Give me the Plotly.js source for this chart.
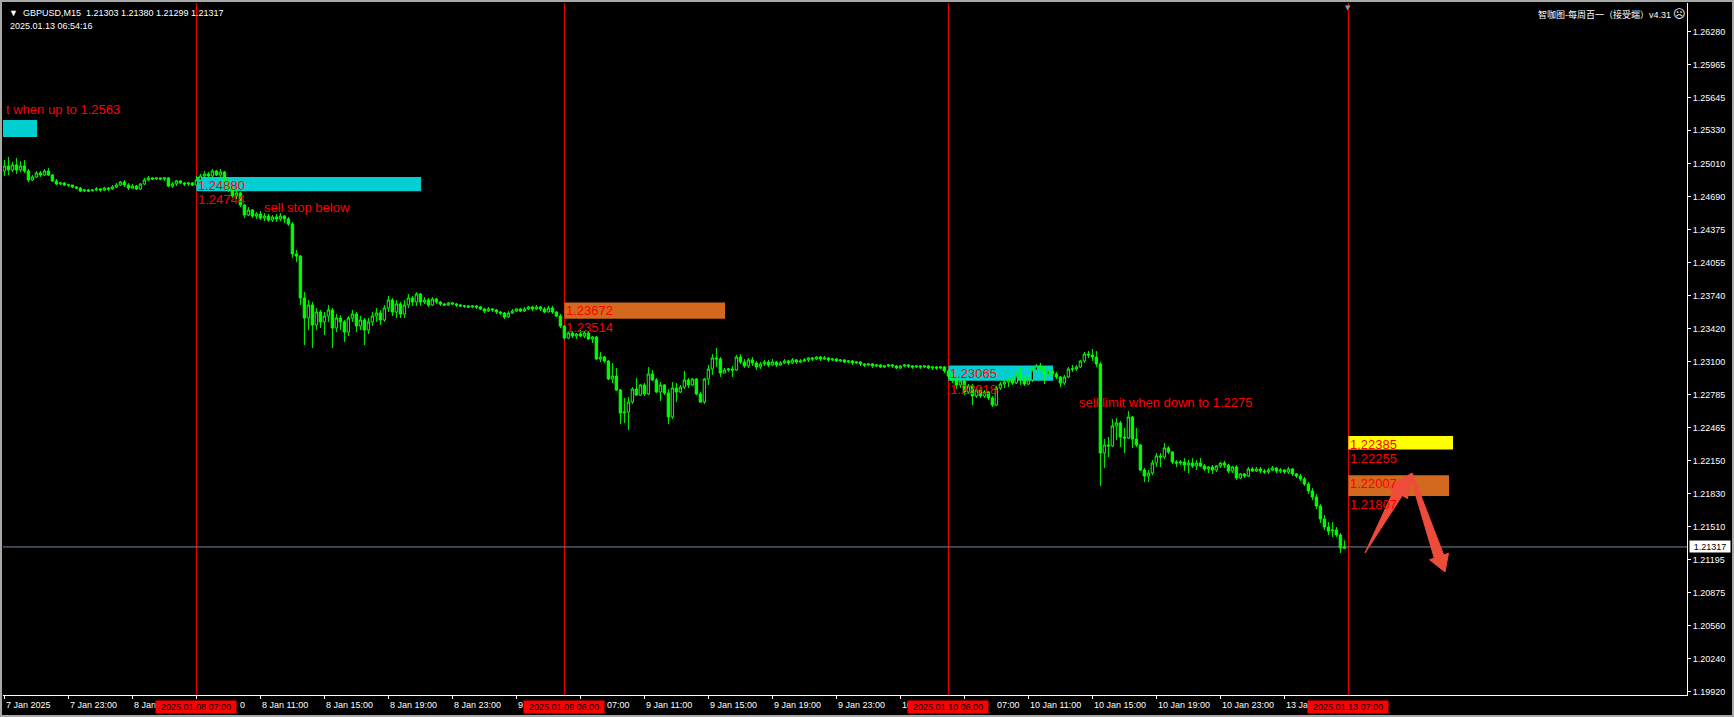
<!DOCTYPE html>
<html><head><meta charset="utf-8">
<script src="https://cdn.plot.ly/plotly-3.0.1.min.js"></script>
<style>
html,body{margin:0;padding:0;background:#000;overflow:hidden;}
#chart{position:absolute;left:0;top:0;width:1734px;height:717px;}
#frame{position:absolute;left:0;top:0;width:1734px;height:717px;box-sizing:border-box;border:2px solid #a8a8a8;pointer-events:none;}
</style></head><body>
<div id="chart"></div><div id="frame"></div>
<script>
// GBPUSD M15 bars, 7 Jan 19:00 .. 13 Jan 06:45 (one bar per index)
const openP = [
1.24938,1.24986,1.24948,1.24996,1.24948,1.24986,1.24938,1.24851,1.24880,1.24919,
1.24899,1.24938,1.24899,1.24842,1.24813,1.24822,1.24803,1.24803,1.24784,1.24774,
1.24745,1.24755,1.24745,1.24755,1.24765,1.24755,1.24774,1.24765,1.24784,1.24803,
1.24832,1.24803,1.24774,1.24793,1.24765,1.24813,1.24851,1.24871,1.24861,1.24871,
1.24861,1.24871,1.24793,1.24813,1.24842,1.24822,1.24813,1.24822,1.24803,1.24851,
1.24890,1.24909,1.24890,1.24938,1.24899,1.24928,1.24832,1.24755,1.24697,1.24726,
1.24610,1.24514,1.24562,1.24504,1.24524,1.24485,1.24504,1.24466,1.24495,1.24476,
1.24504,1.24476,1.24427,1.24139,1.24119,1.23715,1.23522,1.23647,1.23455,1.23580,
1.23484,1.23541,1.23599,1.23426,1.23522,1.23484,1.23387,1.23522,1.23561,1.23445,
1.23503,1.23406,1.23484,1.23541,1.23570,1.23503,1.23618,1.23695,1.23580,1.23657,
1.23561,1.23647,1.23715,1.23676,1.23753,1.23676,1.23695,1.23647,1.23705,1.23676,
1.23657,1.23647,1.23667,1.23657,1.23647,1.23638,1.23638,1.23628,1.23638,1.23628,
1.23609,1.23589,1.23609,1.23599,1.23580,1.23570,1.23532,1.23570,1.23589,1.23609,
1.23589,1.23609,1.23628,1.23609,1.23628,1.23609,1.23580,1.23618,1.23580,1.23541,
1.23445,1.23329,1.23378,1.23349,1.23368,1.23349,1.23378,1.23320,1.23339,1.23127,
1.23146,1.23108,1.22934,1.22963,1.22829,1.22607,1.22617,1.22713,1.22838,1.22780,
1.22877,1.22790,1.22983,1.22925,1.22809,1.22877,1.22800,1.22569,1.22848,1.22809,
1.22857,1.22925,1.22877,1.22934,1.22790,1.22713,1.22934,1.23031,1.23137,1.23127,
1.22992,1.23021,1.23031,1.23021,1.23146,1.23098,1.23060,1.23118,1.23089,1.23050,
1.23079,1.23098,1.23069,1.23098,1.23069,1.23089,1.23108,1.23089,1.23118,1.23098,
1.23108,1.23118,1.23137,1.23127,1.23146,1.23127,1.23137,1.23118,1.23127,1.23108,
1.23118,1.23098,1.23108,1.23089,1.23098,1.23079,1.23069,1.23079,1.23060,1.23069,
1.23050,1.23060,1.23069,1.23060,1.23041,1.23060,1.23069,1.23060,1.23050,1.23060,
1.23050,1.23060,1.23041,1.23050,1.23041,1.23050,1.23012,1.22963,1.22925,1.22877,
1.22915,1.22809,1.22867,1.22771,1.22829,1.22771,1.22809,1.22752,1.22684,1.22848,
1.22886,1.22906,1.22925,1.22896,1.22963,1.22934,1.22886,1.22925,1.23021,1.23060,
1.23041,1.22983,1.23012,1.22983,1.22954,1.22896,1.22954,1.23031,1.23031,1.23050,
1.23108,1.23175,1.23166,1.23146,1.23079,1.22222,1.22299,1.22289,1.22482,1.22511,
1.22376,1.22366,1.22569,1.22357,1.22299,1.22058,1.22000,1.22029,1.22125,1.22193,
1.22183,1.22270,1.22231,1.22135,1.22125,1.22135,1.22106,1.22125,1.22097,1.22125,
1.22097,1.22068,1.22087,1.22058,1.22097,1.22125,1.22106,1.22048,1.22087,1.21981,
1.22020,1.22000,1.22068,1.22048,1.22068,1.22048,1.22039,1.22058,1.22077,1.22048,
1.22058,1.22039,1.22068,1.22020,1.22000,1.21971,1.21923,1.21856,1.21798,1.21711,
1.21586,1.21509,1.21470,1.21480,1.21432,1.21303];
const highP = [
1.25044,1.25073,1.25025,1.25063,1.25034,1.25044,1.24957,1.24899,1.24938,1.24938,
1.24957,1.24967,1.24909,1.24861,1.24832,1.24832,1.24813,1.24803,1.24793,1.24784,
1.24765,1.24765,1.24765,1.24784,1.24774,1.24784,1.24784,1.24803,1.24822,1.24842,
1.24851,1.24822,1.24813,1.24803,1.24822,1.24871,1.24890,1.24880,1.24880,1.24871,
1.24880,1.24880,1.24832,1.24851,1.24851,1.24832,1.24832,1.24832,1.24890,1.24909,
1.24938,1.24928,1.24957,1.24948,1.24957,1.24938,1.24851,1.24793,1.24755,1.24736,
1.24620,1.24591,1.24572,1.24543,1.24553,1.24533,1.24524,1.24514,1.24524,1.24533,
1.24514,1.24495,1.24447,1.24177,1.24129,1.23772,1.23695,1.23676,1.23618,1.23599,
1.23580,1.23647,1.23618,1.23561,1.23551,1.23503,1.23541,1.23599,1.23580,1.23541,
1.23522,1.23522,1.23580,1.23618,1.23599,1.23647,1.23734,1.23715,1.23695,1.23676,
1.23695,1.23753,1.23734,1.23772,1.23763,1.23724,1.23715,1.23724,1.23715,1.23686,
1.23667,1.23676,1.23676,1.23667,1.23657,1.23647,1.23647,1.23647,1.23647,1.23638,
1.23618,1.23628,1.23618,1.23609,1.23589,1.23580,1.23589,1.23609,1.23618,1.23618,
1.23628,1.23638,1.23638,1.23647,1.23638,1.23628,1.23638,1.23638,1.23589,1.23561,
1.23455,1.23397,1.23397,1.23378,1.23406,1.23397,1.23387,1.23349,1.23349,1.23195,
1.23156,1.23118,1.23089,1.23041,1.22838,1.22752,1.22761,1.22857,1.22944,1.22886,
1.22896,1.23050,1.23021,1.22944,1.22906,1.22886,1.22838,1.22906,1.22896,1.22877,
1.23012,1.22944,1.22944,1.22944,1.22809,1.22944,1.23069,1.23175,1.23233,1.23146,
1.23041,1.23041,1.23060,1.23166,1.23175,1.23127,1.23137,1.23146,1.23108,1.23098,
1.23118,1.23118,1.23127,1.23108,1.23108,1.23127,1.23118,1.23137,1.23127,1.23127,
1.23137,1.23146,1.23146,1.23156,1.23156,1.23156,1.23146,1.23137,1.23137,1.23127,
1.23127,1.23118,1.23118,1.23108,1.23108,1.23089,1.23089,1.23089,1.23079,1.23079,
1.23069,1.23079,1.23079,1.23069,1.23069,1.23079,1.23079,1.23069,1.23069,1.23069,
1.23069,1.23069,1.23060,1.23060,1.23060,1.23060,1.23031,1.22983,1.22944,1.22934,
1.22925,1.22886,1.22886,1.22848,1.22857,1.22829,1.22819,1.22771,1.22867,1.22906,
1.22925,1.22944,1.22944,1.23002,1.23050,1.22963,1.22944,1.23041,1.23079,1.23089,
1.23060,1.23031,1.23021,1.23002,1.22963,1.22973,1.23050,1.23069,1.23069,1.23118,
1.23195,1.23204,1.23223,1.23204,1.23098,1.22357,1.22376,1.22549,1.22559,1.22530,
1.22463,1.22626,1.22578,1.22463,1.22308,1.22077,1.22058,1.22154,1.22222,1.22222,
1.22318,1.22289,1.22241,1.22154,1.22154,1.22174,1.22154,1.22174,1.22154,1.22174,
1.22116,1.22097,1.22106,1.22106,1.22135,1.22145,1.22116,1.22097,1.22106,1.22029,
1.22029,1.22087,1.22087,1.22087,1.22087,1.22068,1.22077,1.22097,1.22087,1.22077,
1.22068,1.22087,1.22077,1.22029,1.22020,1.21991,1.21942,1.21885,1.21827,1.21730,
1.21625,1.21557,1.21557,1.21509,1.21451,1.21380];
const lowP = [
1.24890,1.24899,1.24928,1.24909,1.24928,1.24919,1.24832,1.24842,1.24871,1.24880,
1.24890,1.24890,1.24832,1.24803,1.24803,1.24793,1.24784,1.24774,1.24765,1.24736,
1.24736,1.24736,1.24745,1.24745,1.24736,1.24745,1.24745,1.24755,1.24774,1.24793,
1.24784,1.24755,1.24765,1.24755,1.24755,1.24803,1.24842,1.24851,1.24851,1.24851,
1.24842,1.24784,1.24774,1.24793,1.24813,1.24793,1.24793,1.24793,1.24793,1.24842,
1.24871,1.24880,1.24871,1.24890,1.24880,1.24813,1.24736,1.24678,1.24668,1.24591,
1.24485,1.24504,1.24485,1.24476,1.24466,1.24456,1.24447,1.24447,1.24447,1.24456,
1.24437,1.24408,1.24100,1.24061,1.23647,1.23262,1.23406,1.23233,1.23406,1.23426,
1.23358,1.23484,1.23233,1.23387,1.23406,1.23291,1.23349,1.23484,1.23387,1.23406,
1.23262,1.23368,1.23445,1.23484,1.23455,1.23484,1.23580,1.23541,1.23522,1.23522,
1.23522,1.23618,1.23638,1.23638,1.23638,1.23657,1.23628,1.23638,1.23657,1.23638,
1.23638,1.23638,1.23647,1.23628,1.23628,1.23618,1.23618,1.23618,1.23609,1.23599,
1.23570,1.23580,1.23580,1.23561,1.23551,1.23512,1.23522,1.23561,1.23580,1.23580,
1.23580,1.23599,1.23589,1.23599,1.23589,1.23570,1.23580,1.23561,1.23532,1.23426,
1.23310,1.23320,1.23329,1.23320,1.23339,1.23329,1.23310,1.23281,1.23118,1.23098,
1.23089,1.22925,1.22896,1.22819,1.22501,1.22511,1.22443,1.22694,1.22771,1.22771,
1.22771,1.22780,1.22915,1.22800,1.22723,1.22780,1.22501,1.22549,1.22713,1.22800,
1.22838,1.22848,1.22867,1.22780,1.22703,1.22694,1.22877,1.22973,1.23050,1.22954,
1.22992,1.23002,1.22954,1.23012,1.23079,1.23041,1.23041,1.23060,1.23021,1.23031,
1.23060,1.23050,1.23060,1.23050,1.23060,1.23079,1.23069,1.23079,1.23079,1.23089,
1.23098,1.23098,1.23108,1.23118,1.23108,1.23118,1.23098,1.23108,1.23098,1.23098,
1.23089,1.23089,1.23069,1.23079,1.23060,1.23050,1.23060,1.23041,1.23050,1.23041,
1.23041,1.23050,1.23041,1.23031,1.23031,1.23050,1.23041,1.23031,1.23041,1.23031,
1.23041,1.23031,1.23021,1.23021,1.23031,1.22992,1.22934,1.22896,1.22838,1.22848,
1.22780,1.22790,1.22684,1.22752,1.22752,1.22752,1.22732,1.22665,1.22674,1.22829,
1.22848,1.22857,1.22877,1.22886,1.22877,1.22867,1.22877,1.22906,1.23012,1.23002,
1.22886,1.22963,1.22963,1.22934,1.22857,1.22877,1.22944,1.23002,1.23012,1.23041,
1.23089,1.23137,1.23108,1.23050,1.21904,1.22077,1.22183,1.22280,1.22347,1.22280,
1.22222,1.22357,1.22270,1.22280,1.22048,1.21942,1.21942,1.22010,1.22087,1.22087,
1.22164,1.22212,1.22116,1.22087,1.22106,1.22048,1.22029,1.22077,1.22058,1.22087,
1.22048,1.22029,1.22020,1.22039,1.22077,1.22077,1.22029,1.22029,1.21962,1.21971,
1.21981,1.21991,1.22039,1.22039,1.22029,1.22020,1.22020,1.22048,1.22029,1.22029,
1.22020,1.22020,1.22000,1.21981,1.21952,1.21904,1.21827,1.21769,1.21682,1.21548,
1.21480,1.21432,1.21413,1.21413,1.21259,1.21299];
const closeP = [
1.24986,1.24948,1.24996,1.24948,1.24986,1.24938,1.24851,1.24880,1.24919,1.24899,
1.24938,1.24899,1.24842,1.24813,1.24822,1.24803,1.24803,1.24784,1.24774,1.24745,
1.24755,1.24745,1.24755,1.24765,1.24755,1.24774,1.24765,1.24784,1.24803,1.24832,
1.24803,1.24774,1.24793,1.24765,1.24813,1.24851,1.24871,1.24861,1.24871,1.24861,
1.24871,1.24793,1.24813,1.24842,1.24822,1.24813,1.24822,1.24803,1.24851,1.24890,
1.24909,1.24890,1.24938,1.24899,1.24928,1.24832,1.24755,1.24697,1.24726,1.24610,
1.24514,1.24562,1.24504,1.24524,1.24485,1.24504,1.24466,1.24495,1.24476,1.24504,
1.24476,1.24427,1.24139,1.24119,1.23715,1.23522,1.23647,1.23455,1.23580,1.23484,
1.23541,1.23599,1.23426,1.23522,1.23484,1.23387,1.23522,1.23561,1.23445,1.23503,
1.23406,1.23484,1.23541,1.23570,1.23503,1.23618,1.23695,1.23580,1.23657,1.23561,
1.23647,1.23715,1.23676,1.23753,1.23676,1.23695,1.23647,1.23705,1.23676,1.23657,
1.23647,1.23667,1.23657,1.23647,1.23638,1.23638,1.23628,1.23638,1.23628,1.23609,
1.23589,1.23609,1.23599,1.23580,1.23570,1.23532,1.23570,1.23589,1.23609,1.23589,
1.23609,1.23628,1.23609,1.23628,1.23609,1.23580,1.23618,1.23580,1.23541,1.23445,
1.23329,1.23378,1.23349,1.23368,1.23349,1.23378,1.23320,1.23339,1.23127,1.23146,
1.23108,1.22934,1.22963,1.22829,1.22607,1.22617,1.22713,1.22838,1.22780,1.22877,
1.22790,1.22983,1.22925,1.22809,1.22877,1.22800,1.22569,1.22848,1.22809,1.22857,
1.22925,1.22877,1.22934,1.22790,1.22713,1.22934,1.23031,1.23137,1.23127,1.22992,
1.23021,1.23031,1.23021,1.23146,1.23098,1.23060,1.23118,1.23089,1.23050,1.23079,
1.23098,1.23069,1.23098,1.23069,1.23089,1.23108,1.23089,1.23118,1.23098,1.23108,
1.23118,1.23137,1.23127,1.23146,1.23127,1.23137,1.23118,1.23127,1.23108,1.23118,
1.23098,1.23108,1.23089,1.23098,1.23079,1.23069,1.23079,1.23060,1.23069,1.23050,
1.23060,1.23069,1.23060,1.23041,1.23060,1.23069,1.23060,1.23050,1.23060,1.23050,
1.23060,1.23041,1.23050,1.23041,1.23050,1.23012,1.22963,1.22925,1.22877,1.22915,
1.22809,1.22867,1.22771,1.22829,1.22771,1.22809,1.22752,1.22684,1.22848,1.22886,
1.22906,1.22925,1.22896,1.22963,1.22934,1.22886,1.22925,1.23021,1.23060,1.23041,
1.22983,1.23012,1.22983,1.22954,1.22896,1.22954,1.23031,1.23031,1.23050,1.23108,
1.23175,1.23166,1.23146,1.23079,1.22222,1.22299,1.22289,1.22482,1.22511,1.22376,
1.22366,1.22569,1.22357,1.22299,1.22058,1.22000,1.22029,1.22125,1.22193,1.22183,
1.22270,1.22231,1.22135,1.22125,1.22135,1.22106,1.22125,1.22097,1.22125,1.22097,
1.22068,1.22087,1.22058,1.22097,1.22125,1.22106,1.22048,1.22087,1.21981,1.22020,
1.22000,1.22068,1.22048,1.22068,1.22048,1.22039,1.22058,1.22077,1.22048,1.22058,
1.22039,1.22068,1.22020,1.22000,1.21971,1.21923,1.21856,1.21798,1.21711,1.21586,
1.21509,1.21470,1.21480,1.21432,1.21307,1.21317];

// axis labels
const yTickVals = [1.26280,1.25965,1.25645,1.25330,1.25010,1.24690,1.24375,1.24055,1.23740,1.23420,
  1.23100,1.22785,1.22465,1.22150,1.21830,1.21510,1.21195,1.20875,1.20560,1.20240,1.19920];
// time-axis tick positions (bars) and the part of each label left visible beside the red time boxes
const xTickBars = [0,16,32,48,64,80,96,112,128,144,160,176,192,208,224,240,256,272,288,304,320];
const xLabelText = ["7 Jan 2025","7 Jan 23:00","8 Jan","0","8 Jan 11:00","8 Jan 15:00",
  "8 Jan 19:00","8 Jan 23:00","9","07:00","9 Jan 11:00","9 Jan 15:00","9 Jan 19:00",
  "9 Jan 23:00","10","07:00","10 Jan 11:00","10 Jan 15:00","10 Jan 19:00",
  "10 Jan 23:00","13 Jan"];
const xLabelBar = [0,16,32,58.5,64,80,96,112,128,150.2,160,176,192,208,224,247.6,256,272,288,304,320];

// vertical time markers
const markerTimes = ["2025.01.08 07:00","2025.01.09 06:00","2025.01.10 06:00","2025.01.13 07:00"];
const markerBars = [48,140,236,336];

// price zones
const zoneLow   = [1.25265,1.24744,1.23514,1.22918,1.22255,1.21807];
const zoneHigh  = [1.25429,1.24880,1.23672,1.23065,1.22385,1.22007];
const zoneStart = [-10,48,140,236,336,336];
const zoneEnd   = [8.15,104.15,180.15,262.15,362.15,361.15];
const zoneColor = ['#00CED1','#00CED1','#D2691E','#00CED1','#FFFF00','#D2691E'];
const zoneLabelled = [false,true,true,true,true,true];

const lastPrice = 1.21317;
const headerText = "GBPUSD,M15\u00a0\u00a01.21303 1.21380 1.21299 1.21317";
const headerTime = "2025.01.13 06:54:16";

// notes
const noteText = ["t when up to 1.2563","sell stop below","sell limit when down to 1.2275"];
const noteBar = [null,64.4,268.15];
const notePrice = [1.25526,1.24582,1.22713];

// drawn arrows [bar, price]
const arrowUp = [[340.15,1.21259],[347.33,1.21861],[346.03,1.21890],[351.9,1.22029],[350.78,1.21782],[349.48,1.21812]];
const arrowDown = [[351.3,1.22015],[357.48,1.21209],[356.28,1.21194],[360.15,1.21076],[361.03,1.21256],[359.83,1.21240],[352.0,1.22024]];

const barIndex = closeP.map((_, i) => i);
const FONT = 'Liberation Sans, Arial, sans-serif';

const shapes = [];
const annotations = [];

markerBars.forEach(b => shapes.push({type:'line', xref:'x', yref:'paper', x0:b, x1:b, y0:0, y1:1,
  line:{color:'#ff0000', width:1}, layer:'below'}));
for (let i = 0; i < zoneLow.length; i++) {
  shapes.push({type:'rect', xref:'x', yref:'y', x0:zoneStart[i], x1:zoneEnd[i], y0:zoneLow[i], y1:zoneHigh[i],
    fillcolor:zoneColor[i], line:{width:0}, layer:'below'});
}
shapes.push({type:'line', xref:'paper', yref:'y', x0:0, x1:1, y0:lastPrice, y1:lastPrice,
  line:{color:'#778899', width:1}, layer:'below'});
const toPath = pts => 'M ' + pts.map(p => p[0] + ',' + p[1]).join(' L ') + ' Z';
[arrowUp, arrowDown].forEach(a => shapes.push({type:'path', xref:'x', yref:'y', path:toPath(a),
  fillcolor:'#EE4B3B', line:{color:'#EE4B3B', width:1}, layer:'above'}));

// zone price labels
for (let i = 0; i < zoneLow.length; i++) {
  if (!zoneLabelled[i]) continue;
  [zoneHigh[i], zoneLow[i]].forEach(v => annotations.push({xref:'x', yref:'y', x:zoneStart[i], y:v,
    xanchor:'left', yanchor:'top', yshift:1, showarrow:false, text:v.toFixed(5),
    font:{family:FONT, size:13, color:'#ff0000'}}));
}
// notes
noteText.forEach((t, i) => {
  if (noteBar[i] === null) {
    annotations.push({xref:'paper', yref:'y', x:0, y:notePrice[i], xanchor:'left', yanchor:'middle', xshift:1,
      showarrow:false, text:t, font:{family:FONT, size:13, color:'#ff0000'}});
  } else {
    annotations.push({xref:'x', yref:'y', x:noteBar[i], y:notePrice[i], xanchor:'left', yanchor:'middle',
      showarrow:false, text:t, font:{family:FONT, size:13, color:'#ff0000'}});
  }
});
// x labels
xLabelText.forEach((t, i) => annotations.push({xref:'x', yref:'paper', x:xLabelBar[i], y:0, xanchor:'left',
  yanchor:'top', yshift:-3, showarrow:false, text:t, font:{family:FONT, size:9, color:'#ffffff'}}));
// red time boxes
markerTimes.forEach((t, i) => annotations.push({xref:'x', yref:'paper', x:markerBars[i], y:0, xanchor:'center',
  yanchor:'top', yshift:-5, width:80, height:12, borderpad:0, bgcolor:'#ff0000', showarrow:false, text:t,
  font:{family:FONT, size:9, color:'#000000'}}));
// last price box
annotations.push({xref:'paper', yref:'y', x:1, y:lastPrice, xanchor:'left', yanchor:'middle', xshift:2,
  width:40, height:11, borderpad:0, bgcolor:'#ffffff', showarrow:false, text:lastPrice.toFixed(5),
  font:{family:FONT, size:9, color:'#000000'}});
// header
annotations.push({xref:'paper', yref:'paper', x:0, y:1, xanchor:'left', yanchor:'top', xshift:4, yshift:-3,
  showarrow:false, text:'\u25BC\u00a0\u00a0' + headerText, font:{family:FONT, size:9, color:'#ffffff'}});
annotations.push({xref:'paper', yref:'paper', x:0, y:1, xanchor:'left', yanchor:'top', xshift:5, yshift:-16,
  showarrow:false, text:headerTime, font:{family:FONT, size:9, color:'#ffffff'}});
annotations.push({xref:'paper', yref:'paper', x:1, y:1, xanchor:'right', yanchor:'top', xshift:-14, yshift:-4,
  showarrow:false, text:'智咖图-每周百一（接受端）v4.31', font:{family:'Liberation Sans, Noto Sans CJK SC, sans-serif', size:9, color:'#ffffff'}});
annotations.push({xref:'paper', yref:'paper', x:1, y:1, xanchor:'center', yanchor:'top', xshift:-7.5, yshift:-2,
  showarrow:false, text:'\u2639', font:{family:'DejaVu Sans, sans-serif', size:12, color:'#ffffff'}});
annotations.push({xref:'x', yref:'paper', x:336, y:1, xanchor:'center', yanchor:'top', yshift:1,
  showarrow:false, text:'\u25BC', font:{family:'DejaVu Sans, sans-serif', size:7, color:'#8899aa'}});

const trace = {
  type:'candlestick', x:barIndex, open:openP, high:highP, low:lowP, close:closeP,
  increasing:{line:{color:'#00ff00', width:1}, fillcolor:'#000000'},
  decreasing:{line:{color:'#00ff00', width:1}, fillcolor:'#00ff00'},
  whiskerwidth:0, hoverinfo:'skip', showlegend:false
};

const layout = {
  width:1734, height:717, autosize:false,
  margin:{l:3, r:47, t:3, b:22, pad:0},
  paper_bgcolor:'#000000', plot_bgcolor:'#000000',
  showlegend:false, hovermode:false,
  boxgap:0.2, boxgroupgap:0.25,
  xaxis:{range:[-0.35, 420.65], showticklabels:false, tickvals:xTickBars, ticks:'outside', ticklen:3,
    tickcolor:'#ffffff', showline:true, linecolor:'#ffffff', linewidth:1, showgrid:false, zeroline:false,
    rangeslider:{visible:false}, fixedrange:true},
  yaxis:{side:'right', range:[1.19891, 1.26556], tickvals:yTickVals, ticktext:yTickVals.map(v => v.toFixed(5)),
    ticks:'outside', ticklen:3, tickcolor:'#ffffff', showline:true, linecolor:'#ffffff', linewidth:1,
    showgrid:false, zeroline:false, fixedrange:true, tickfont:{family:FONT, size:9, color:'#ffffff'}},
  shapes:shapes, annotations:annotations
};

Plotly.newPlot('chart', [trace], layout, {staticPlot:true, displayModeBar:false});
</script>
</body></html>
